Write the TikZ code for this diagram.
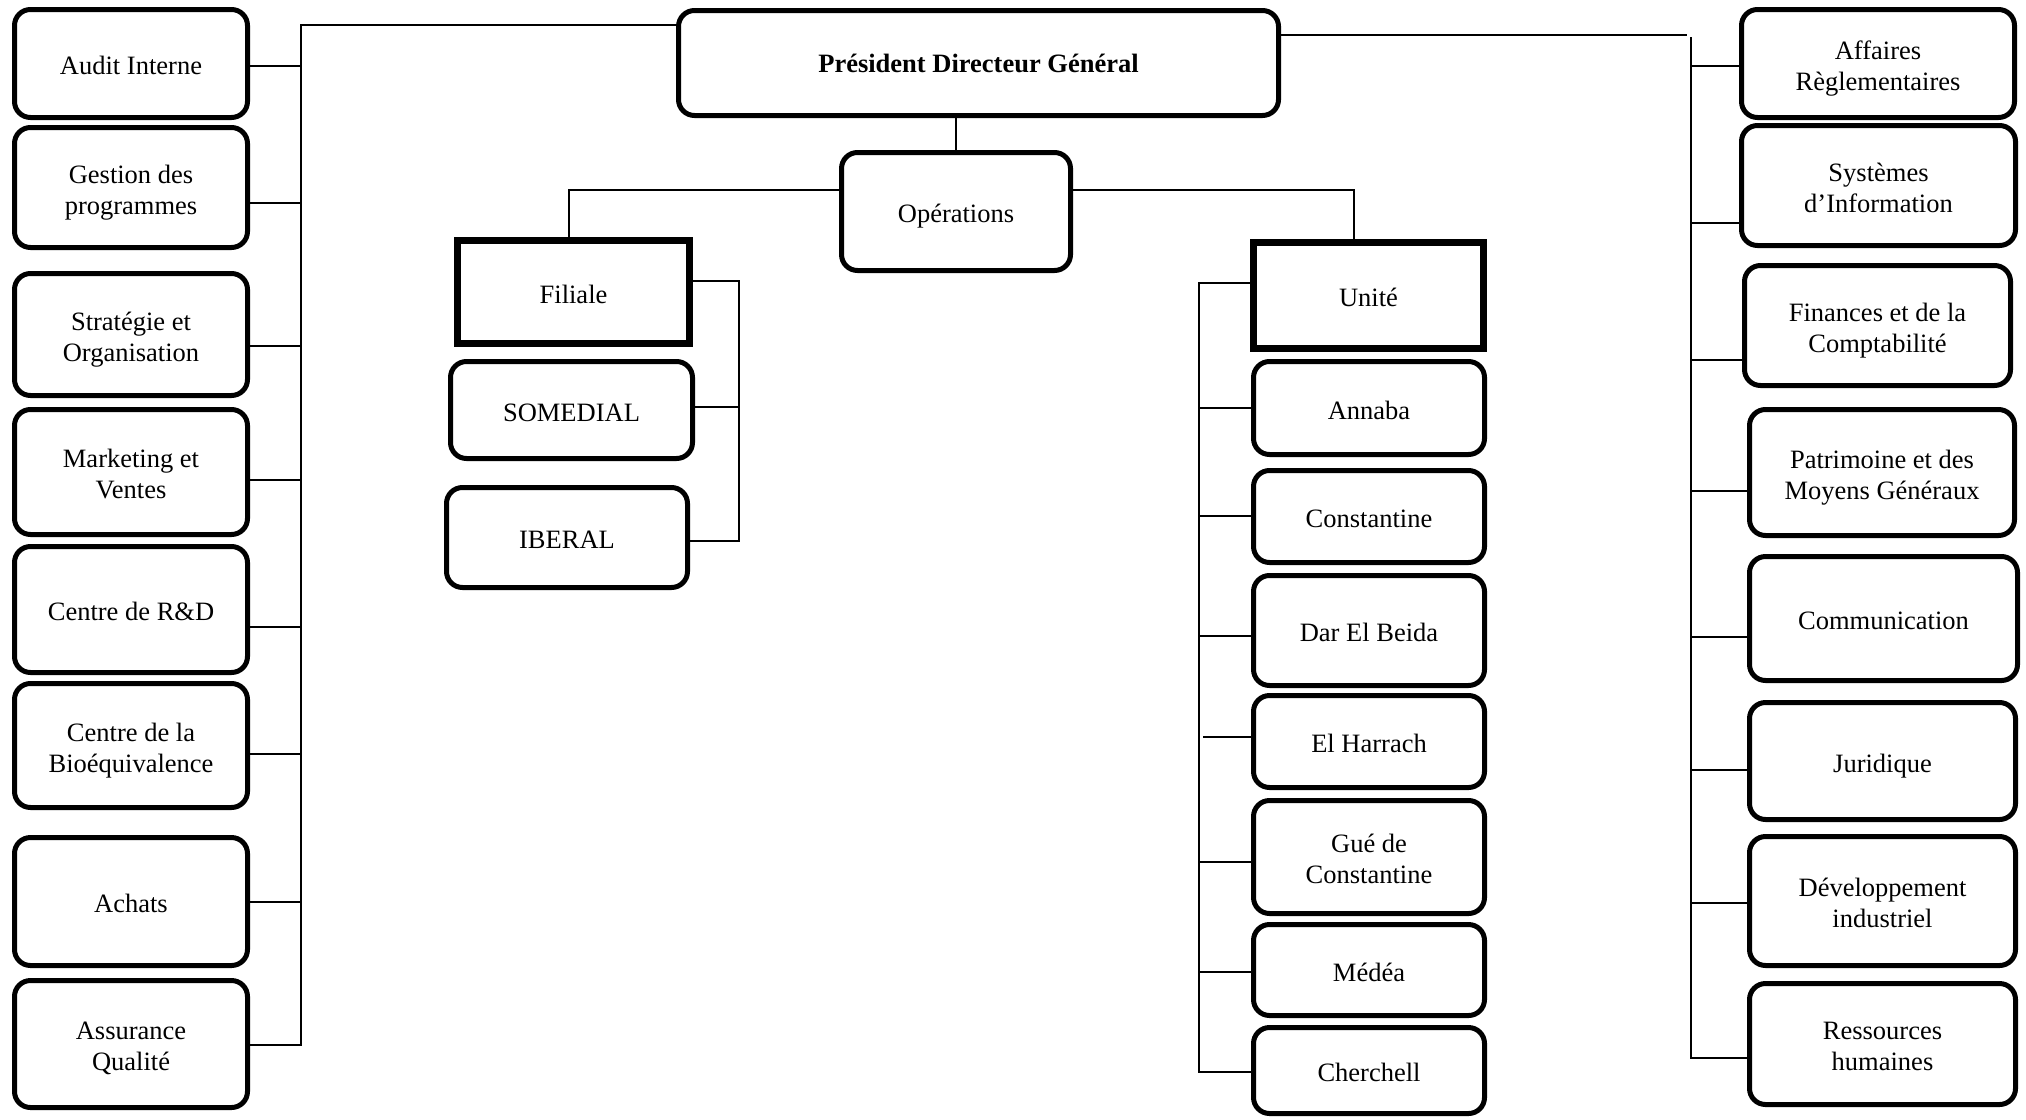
\documentclass[tikz,border=0pt]{standalone}
\usepackage{fontspec}
\setmainfont{Liberation Serif}
\begin{document}
\begin{tikzpicture}[x=1pt,y=-1pt,
  every node/.style={font=\fontsize{26.5}{31}\selectfont, align=center, inner sep=2pt},
  one/.style={text height=22pt, text depth=0pt},
  two/.style={text height=53pt, text depth=0pt},
  rbox/.style={draw, line width=5pt, rounded corners=16pt, fill=white},
  sqbox/.style={draw, line width=7pt, fill=white, one},
  conn/.style={line width=1.8pt, line cap=rect}]
\useasboundingbox (0,0) rectangle (2026,1119);
\fill[white] (0,0) rectangle (2026,1119);

% --- top of the hierarchy ---
\node[rbox, minimum width=600pt, minimum height=105pt] (pdg) at (978.5,63) {\bfseries Président Directeur Général};
\node[rbox, one, minimum width=229pt, minimum height=118pt] (ops) at (956,211.5) {Opérations};

% --- left column: staff departments ---
\begin{scope}[every node/.append style={rbox, minimum width=233pt}]
\node[one, minimum height=108pt] (audit)     at (131,63.5)  {Audit Interne};
\node[two, minimum height=120pt] (gestion)   at (131,187.5) {Gestion des\\programmes};
\node[two, minimum height=122pt] (strategie) at (131,334.5) {Stratégie et\\Organisation};
\node[two, minimum height=125pt] (marketing) at (131,472)   {Marketing et\\Ventes};
\node[one, minimum height=126pt] (rd)        at (131,609.5) {Centre de R\&D};
\node[two, minimum height=124pt] (bio)       at (131,745.5) {Centre de la\\Bioéquivalence};
\node[one, minimum height=128pt] (achats)    at (131,901.5) {Achats};
\node[two, minimum height=127pt] (assurance) at (131,1044)  {Assurance\\Qualité};
\end{scope}

% --- right column: support departments ---
\begin{scope}[every node/.append style={rbox}]
\node[two, minimum width=273pt, minimum height=108pt] (affaires)      at (1878,63.5)   {Affaires\\Règlementaires};
\node[two, minimum width=274pt, minimum height=120pt] (systemes)      at (1878.5,185.5){Systèmes\\d’Information};
\node[two, minimum width=266pt, minimum height=120pt] (finances)      at (1877.5,325.5){Finances et de la\\Comptabilité};
\node[two, minimum width=265pt, minimum height=126pt] (patrimoine)    at (1882,472.5)  {Patrimoine et des\\Moyens Généraux};
\node[one, minimum width=268pt, minimum height=124pt] (communication) at (1883.5,618.5){Communication};
\node[one, minimum width=266pt, minimum height=117pt] (juridique)     at (1882.5,761)  {Juridique};
\node[two, minimum width=266pt, minimum height=129pt] (developpement) at (1882.5,901)  {Développement\\industriel};
\node[two, minimum width=266pt, minimum height=121pt] (ressources)    at (1882.5,1044) {Ressources\\humaines};
\end{scope}

% --- subsidiaries ---
\node[sqbox, minimum width=232pt, minimum height=103pt] (filiale)  at (573.5,292)  {Filiale};
\node[rbox, one, minimum width=242pt, minimum height=97pt]  (somedial) at (571.5,410)  {SOMEDIAL};
\node[rbox, one, minimum width=241pt, minimum height=100pt] (iberal)   at (567,537.5)  {IBERAL};

% --- production units ---
\node[sqbox, minimum width=230pt, minimum height=106pt] (unite) at (1368.5,295.5) {Unité};
\begin{scope}[every node/.append style={rbox, minimum width=231pt}]
\node[one, minimum height=93pt]  (annaba)      at (1369,408)    {Annaba};
\node[one, minimum height=92pt]  (constantine) at (1369,516.5)  {Constantine};
\node[one, minimum height=110pt] (darelbeida)  at (1369,630.5)  {Dar El Beida};
\node[one, minimum height=92pt]  (elharrach)   at (1369,741.5)  {El Harrach};
\node[two, minimum height=113pt] (gue)         at (1369,857)    {Gué de\\Constantine};
\node[one, minimum height=91pt]  (medea)       at (1369,970)    {Médéa};
\node[one, minimum height=86pt]  (cherchell)   at (1369,1070.5) {Cherchell};
\end{scope}

% --- connectors: general management to operations ---
\draw[conn] (ops.north |- pdg.south) -- (ops.north);

% --- left bus ---
\coordinate (Ltop) at (301,25);
\draw[conn] (Ltop -| pdg.west) -- (Ltop);
\foreach \n/\y in {audit/66, gestion/203, strategie/346, marketing/480,
                   rd/627, bio/754, achats/902, assurance/1045}{
  \coordinate (L-\n) at (301,\y);
  \draw[conn] (L-\n) -- (L-\n -| \n.east);
}
\draw[conn] (Ltop) -- (L-assurance);

% --- right bus ---
\coordinate (Rpdg) at (1686,35);
\coordinate (Rtop) at (1691,38);
\draw[conn] (Rpdg -| pdg.east) -- (Rpdg);
\foreach \n/\y in {affaires/66, systemes/223, finances/360, patrimoine/491,
                   communication/637, juridique/770, developpement/903, ressources/1058}{
  \coordinate (R-\n) at (1691,\y);
  \draw[conn] (R-\n) -- (R-\n -| \n.west);
}
\draw[conn] (Rtop) -- (R-ressources);

% --- operations to subsidiaries ---
\coordinate (Fl) at (569,190);
\draw[conn] (Fl -| ops.west) -- (Fl) -- (Fl |- filiale.north);
\coordinate (Fb1) at (739,281);
\coordinate (Fb2) at (739,407);
\coordinate (Fb3) at (739,541);
\draw[conn] (Fb1 -| filiale.east) -- (Fb1) -- (Fb3) -- (Fb3 -| iberal.east);
\draw[conn] (Fb2 -| somedial.east) -- (Fb2);

% --- operations to units ---
\coordinate (Ur) at (1354,190);
\draw[conn] (Ur -| ops.east) -- (Ur) -- (Ur |- unite.north);
\coordinate (Utop) at (1199,283);
\foreach \n/\y in {unite/283, annaba/408, constantine/516, darelbeida/636,
                   gue/862, medea/972, cherchell/1072}{
  \coordinate (U-\n) at (1199,\y);
  \draw[conn] (U-\n) -- (U-\n -| \n.west);
}
\coordinate (U-elharrach) at (1204,737);
\draw[conn] (U-elharrach) -- (U-elharrach -| elharrach.west);
\draw[conn] (Utop) -- (U-cherchell);
\end{tikzpicture}
\end{document}
